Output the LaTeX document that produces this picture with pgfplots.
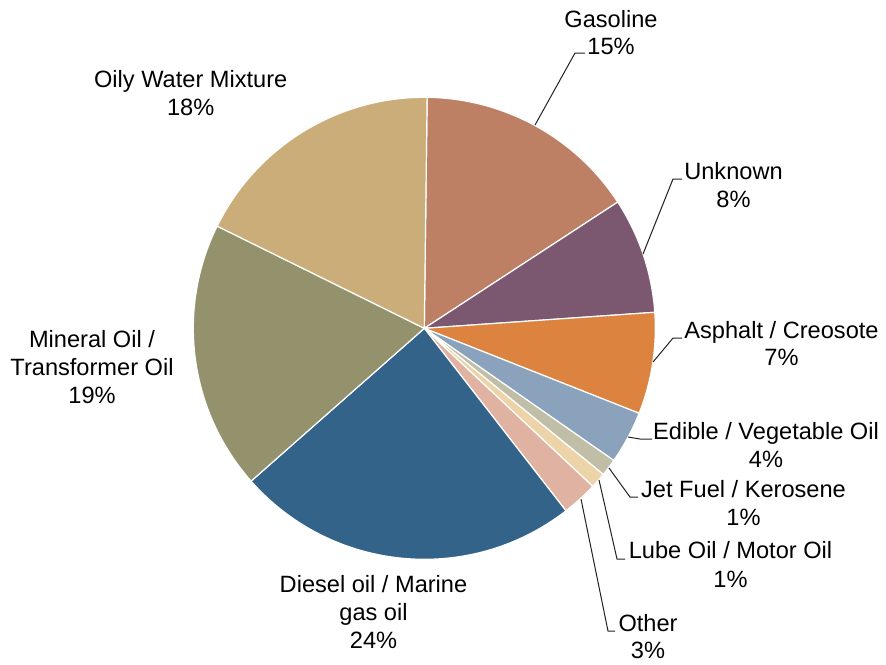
\documentclass[border=0pt]{standalone}
\usepackage{fontspec}
\setmainfont{Liberation Sans}
\usepackage{pgfplots}
\usepackage{pgfplotstable}
\pgfplotsset{compat=1.18}

% slice colours, clockwise from the top
\definecolor{slice0}{HTML}{BD8064}% Gasoline
\definecolor{slice1}{HTML}{7B5770}% Unknown
\definecolor{slice2}{HTML}{DC843F}% Asphalt / Creosote
\definecolor{slice3}{HTML}{8BA2BC}% Edible / Vegetable Oil
\definecolor{slice4}{HTML}{C0BEA6}% Jet Fuel / Kerosene
\definecolor{slice5}{HTML}{EDD3A8}% Lube Oil / Motor Oil
\definecolor{slice6}{HTML}{DFB2A2}% Other
\definecolor{slice7}{HTML}{336389}% Diesel oil / Marine gas oil
\definecolor{slice8}{HTML}{93926D}% Mineral Oil / Transformer Oil
\definecolor{slice9}{HTML}{CBAD7A}% Oily Water Mixture
\definecolor{leader}{HTML}{222222}

\pgfplotstableread{
share
15.6
8.1
7.1
3.7
1.2
1.1
2.5
24.0
18.8
17.9
}\piedata

\begin{document}
\begin{tikzpicture}[font=\fontsize{11.8}{14}\selectfont]
% cumulative angles, clockwise from just left of 12 o'clock
\pgfmathsetmacro\cum{89.3}
\foreach \i in {0,...,9}{
  \pgfplotstablegetelem{\i}{share}\of\piedata
  \pgfmathsetmacro\endang{\cum-3.6*\pgfplotsretval}
  \expandafter\xdef\csname sa\i\endcsname{\cum}
  \expandafter\xdef\csname se\i\endcsname{\endang}
  \xdef\cum{\endang}
}
\begin{axis}[
  scale only axis,
  width=443pt, height=331pt,
  xmin=0, xmax=886, ymin=0, ymax=662,
  y dir=reverse,
  hide axis,
  clip=false
]
\path (axis cs:0,0) rectangle (axis cs:886,662);
\pgfplotsinvokeforeach{0,...,9}{
  \fill[slice#1, draw=white, line width=0.6pt]
    (axis cs:424.3,328.3) -- ++(\csname sa#1\endcsname:115.5pt)
    arc[start angle=\csname sa#1\endcsname, end angle=\csname se#1\endcsname, radius=115.5pt]
    -- cycle;
}

% leader lines
\draw[leader, line width=0.5pt] (axis cs:535,125) -- (axis cs:575,53) -- (axis cs:585,53);
\draw[leader, line width=0.5pt] (axis cs:643,254) -- (axis cs:673,179) -- (axis cs:682,179);
\draw[leader, line width=0.5pt] (axis cs:653,362) -- (axis cs:673,338) -- (axis cs:682,338);
\draw[leader, line width=0.5pt] (axis cs:628,437) -- (axis cs:640,439) -- (axis cs:652,439);
\draw[leader, line width=0.5pt] (axis cs:609,468) -- (axis cs:630,497) -- (axis cs:638,497);
\draw[leader, line width=0.5pt] (axis cs:599,480) -- (axis cs:617,559) -- (axis cs:625,559);
\draw[leader, line width=0.5pt] (axis cs:581,499) -- (axis cs:608,631) -- (axis cs:615,631);

% labels
\node[anchor=base] at (axis cs:611,27) {Gasoline};
\node[anchor=base] at (axis cs:611,54) {15\%};
\node[anchor=base] at (axis cs:733.5,179) {Unknown};
\node[anchor=base] at (axis cs:733.5,207) {8\%};
\node[anchor=base] at (axis cs:781.5,338) {Asphalt / Creosote};
\node[anchor=base] at (axis cs:781.5,365) {7\%};
\node[anchor=base] at (axis cs:766,439) {Edible / Vegetable Oil};
\node[anchor=base] at (axis cs:766,467) {4\%};
\node[anchor=base] at (axis cs:743.5,497) {Jet Fuel / Kerosene};
\node[anchor=base] at (axis cs:743.5,525) {1\%};
\node[anchor=base] at (axis cs:730.5,558) {Lube Oil / Motor Oil};
\node[anchor=base] at (axis cs:730.5,587) {1\%};
\node[anchor=base] at (axis cs:648,631) {Other};
\node[anchor=base] at (axis cs:648,658) {3\%};
\node[anchor=base] at (axis cs:373.5,592) {Diesel oil / Marine};
\node[anchor=base] at (axis cs:373.5,620) {gas oil};
\node[anchor=base] at (axis cs:373.5,648) {24\%};
\node[anchor=base] at (axis cs:92,347) {Mineral Oil /};
\node[anchor=base] at (axis cs:92,375) {Transformer Oil};
\node[anchor=base] at (axis cs:92,403) {19\%};
\node[anchor=base] at (axis cs:190.7,87) {Oily Water Mixture};
\node[anchor=base] at (axis cs:190.7,115) {18\%};
\end{axis}
\end{tikzpicture}
\end{document}
